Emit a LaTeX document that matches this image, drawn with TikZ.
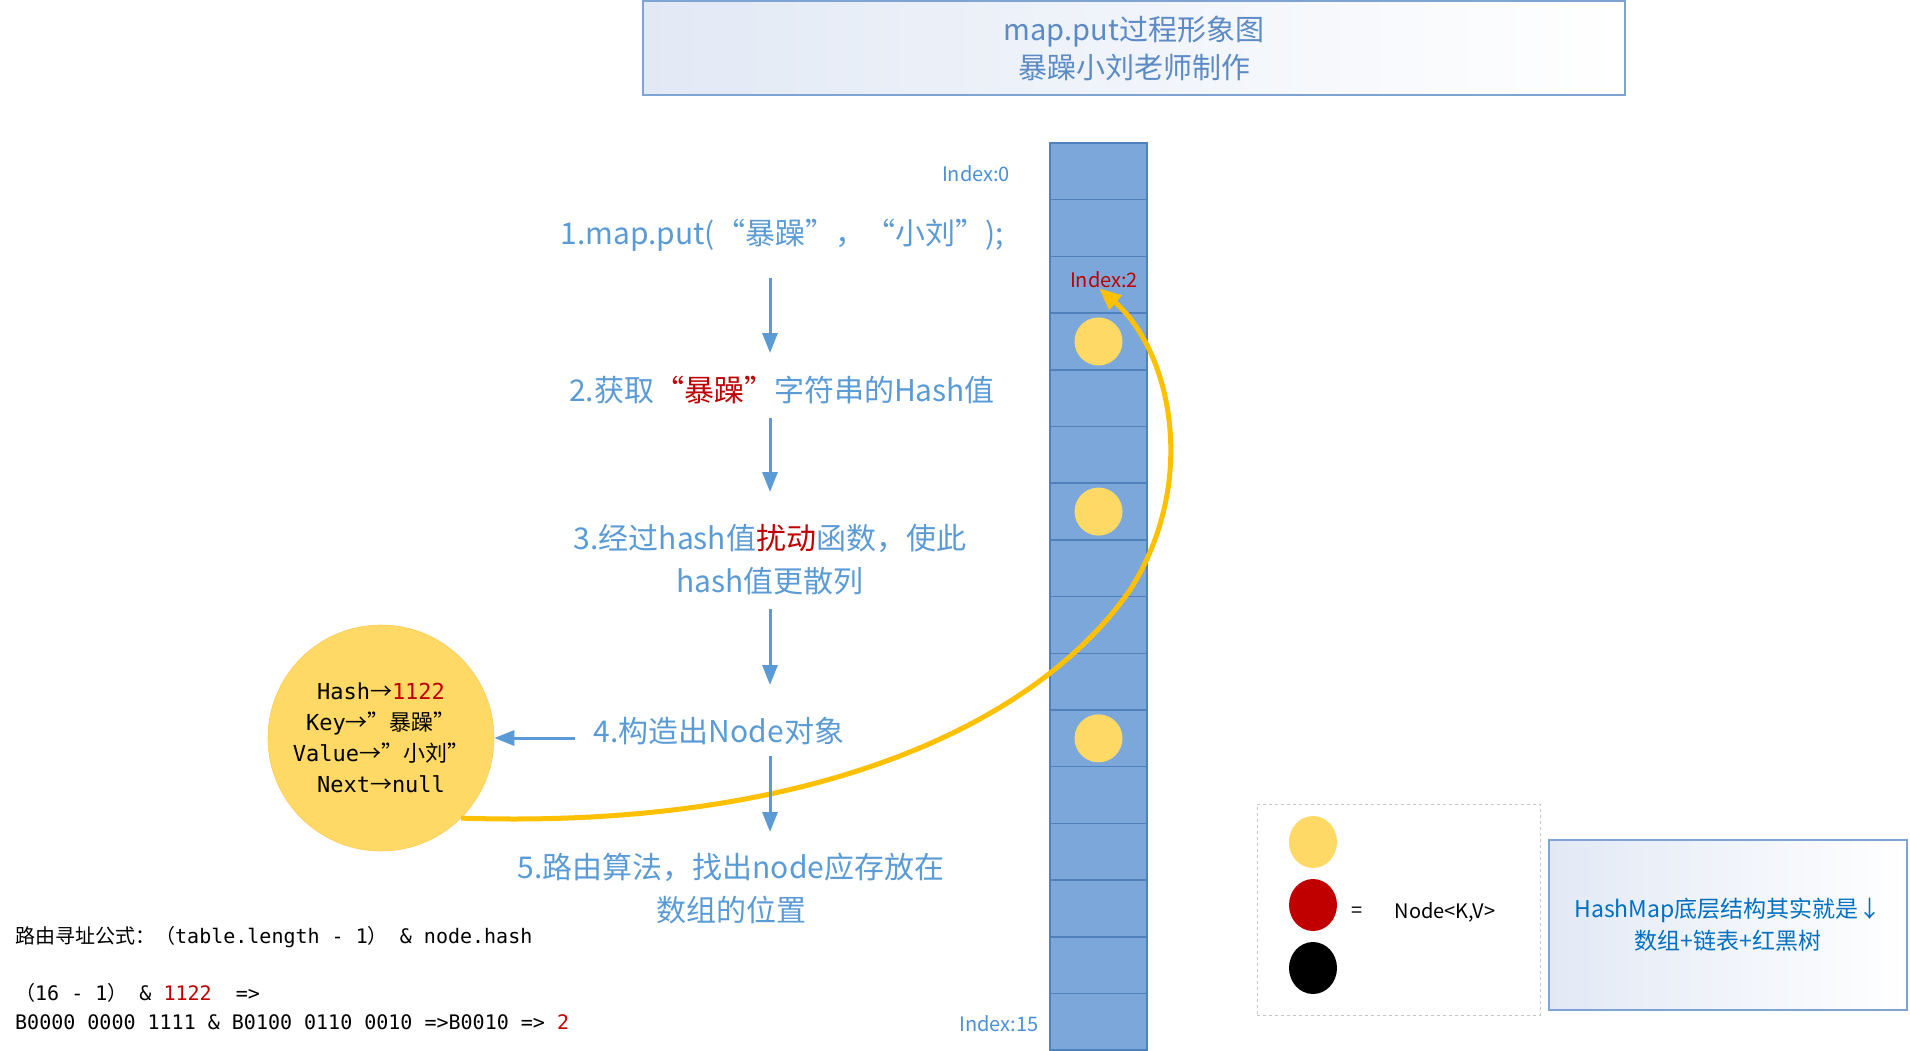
\documentclass[tikz,border=0pt]{standalone}
\usepackage{fontspec}
\setmainfont{Noto Sans CJK SC}
\newfontfamily\zh{Noto Sans CJK SC}
\newfontfamily\mono{DejaVu Sans Mono}
\usetikzlibrary{arrows.meta,shapes.geometric,calc}
\definecolor{stepblue}{HTML}{5B9BD5}
\definecolor{hred}{HTML}{C00000}
\definecolor{cellfill}{HTML}{7BA7DA}
\definecolor{cellline}{HTML}{4F81BD}
\definecolor{nodeyellow}{HTML}{FFD966}
\definecolor{curveyellow}{HTML}{FFC000}
\definecolor{titleblue}{HTML}{5B8AC5}
\definecolor{boxline}{HTML}{7FA3D3}
\definecolor{boxtint}{HTML}{E2E9F5}
\definecolor{hmblue}{HTML}{0070C0}
\definecolor{idxblue}{HTML}{4A90D9}
\begin{document}
\begin{tikzpicture}[x=1pt,y=-1pt,
 cell/.style={draw=cellline,line width=1.5pt,fill=cellfill,minimum width=97pt,minimum height=56.7pt,inner sep=0pt,outer sep=0pt},
 dot/.style={circle,fill=nodeyellow,minimum size=48pt,inner sep=0pt},
 steptext/.style={text=stepblue,font=\fontsize{30}{43}\selectfont,align=center,inner sep=0pt},
 flow/.style={draw=stepblue,line width=3pt,-{Triangle[length=20pt,width=15pt]}},
 idx/.style={font=\fontsize{20}{24}\selectfont,inner sep=0pt},
 code/.style={font=\mono\fontsize{20}{24}\selectfont,anchor=west,inner sep=0pt},
 legdot/.style={ellipse,minimum width=48pt,minimum height=52pt,inner sep=0pt},
]
\useasboundingbox (0,0) rectangle (1910,1051);
% title
\node[draw=boxline,line width=1.2pt,left color=boxtint,right color=white,minimum width=982pt,minimum height=94pt,inner sep=0pt] (title) at (1134,48) {};
\node[text=titleblue,font=\fontsize{29}{38}\selectfont,align=center,inner sep=0pt] (titletext) at (1134,48) {map.put过程形象图\\暴躁小刘老师制作};
% array
\foreach \i in {0,...,15} \node[cell] (c\i) at (1098.5,{171.35+56.7*\i}) {};
\node[dot] (n3) at (c3) {};
\node[dot] (n6) at (c6) {};
\node[dot] (n10) at (c10) {};
\node[idx,text=idxblue] (idx0) at (976,174) {Index:0};
\node[idx,text=hred] (idx2) at (1104,280) {Index:2};
\node[idx,text=idxblue] (idx15) at (999,1024) {Index:15};
% steps
\node[steptext] (s1) at (782,235) {1.map.put(“暴躁”，“小刘”);};
\node[steptext] (s2) at (782,390) {2.获取{\color{hred}“暴躁”}字符串的Hash值};
\node[steptext] (s3) at (770,560) {3.经过hash值{\color{hred}扰动}函数，使此\\hash值更散列};
\node[steptext] (s4) at (719,731) {4.构造出Node对象};
\node[steptext] (s5) at (731,889) {5.路由算法，找出node应存放在\\数组的位置};
% big node
\node[circle,fill=nodeyellow,draw=nodeyellow!85!orange,line width=0.6pt,minimum size=226pt,inner sep=0pt,
  font=\mono\fontsize{22}{31}\selectfont,align=center] (big) at (381,738)
  {Hash{\zh →}{\color{hred}1122}\\Key{\zh →”暴躁”}\\Value{\zh →”小刘”}\\Next{\zh →}null};
% curve
\draw[curveyellow,line width=5pt,-{Triangle[length=22pt,width=18pt]}] (big.south east) .. controls (820,830) and (1040,720) .. (1130,590) .. controls (1200,480) and (1170,350) .. ([xshift=-5pt]idx2.south);
% flow arrows
\coordinate (a1s) at (770,278); \coordinate (a1e) at (770,353);
\coordinate (a2s) at (770,418); \coordinate (a2e) at (770,492);
\coordinate (a3s) at (770,609); \coordinate (a3e) at (770,685);
\coordinate (a4s) at (770,756); \coordinate (a4e) at (770,832);
\coordinate (ahs) at (575,738);
\draw[flow] (a1s) -- (a1e);
\draw[flow] (a2s) -- (a2e);
\draw[flow] (a3s) -- (a3e);
\draw[flow] (a4s) -- (a4e);
\draw[flow] (ahs) -- (big.east);
% formula
\node[code] (f1) at (15,937) {{\zh 路由寻址公式：（}table.length - 1{\zh ）} \& node.hash};
\node[code] (f2) at (15,993) {{\zh （}16 - 1{\zh ）} \& {\color{hred}1122}~~=>};
\node[code] (f3) at (15,1022) {B0000 0000 1111 \& B0100 0110 0010 =>B0010 => {\color{hred}2}};
% legend
\node[draw=gray!45,dashed,line width=1pt,fill=white,minimum width=283pt,minimum height=211pt,inner sep=0pt] (legend) at (1398.5,909.5) {};
\node[legdot,fill=nodeyellow] (ly) at (1313,842) {};
\node[legdot,fill=hred] (lr) at (1313,905) {};
\node[legdot,fill=black] (lb) at (1313,968) {};
\node[font=\fontsize{20}{24}\selectfont,inner sep=0pt] (leq) at (1357,912) {=};
\node[font=\fontsize{20}{24}\selectfont,inner sep=0pt] (lnode) at (1445,912) {Node<K,V>};
% hashmap box
\node[draw=boxline,line width=1.5pt,left color=boxtint,right color=white,minimum width=358pt,minimum height=170pt,inner sep=0pt,
  text=hmblue,font=\fontsize{23}{32}\selectfont,align=center] (hm) at (1728,925) {HashMap底层结构其实就是↓\\数组+链表+红黑树};
\end{tikzpicture}
\end{document}
